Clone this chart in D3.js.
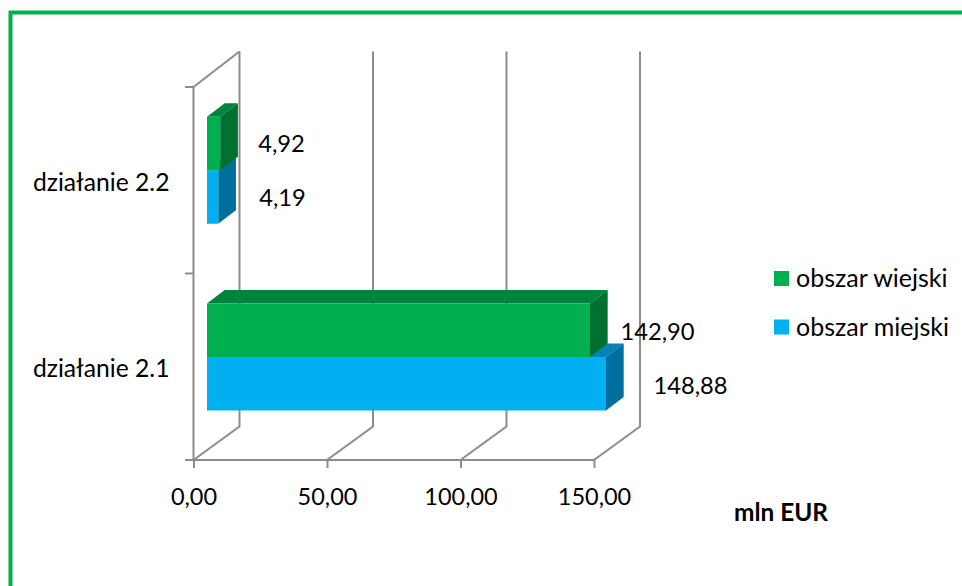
<!DOCTYPE html>
<html><head><meta charset="utf-8">
<script src="https://cdnjs.cloudflare.com/ajax/libs/d3/7.8.5/d3.min.js"></script>
<style>html,body{margin:0;padding:0;background:#fff}svg{display:block}
text{font-family:Lato,"Open Sans",sans-serif;fill:#000}</style></head>
<body><svg id="c" width="962" height="586"></svg>
<script>
const categories = ["działanie 2.2", "działanie 2.1"];
const seriesNames = ["obszar wiejski", "obszar miejski"];
const wiejski = [4.92, 142.90];
const miejski = [4.19, 148.88];
const xTicks = [0, 50, 100, 150];
const unitLabel = "mln EUR";

const fill = {
  "obszar wiejski": {front:"#00B050", top:"#00843C", side:"#00702F"},
  "obszar miejski": {front:"#00B0F0", top:"#0084B4", side:"#006F9E"}
};
const GRID = "#8C8C8C";
const svg = d3.select("#c");
const fmt = d3.formatLocale({decimal:",",thousands:" ",grouping:[3],currency:["",""]}).format(".2f");

// frame
svg.append("path").attr("d","M10.5 586V12.5H962").attr("fill","none").attr("stroke","#00B050").attr("stroke-width",4);

// scales
const x = d3.scaleLinear().domain([0,150]).range([193.5,594]);
const barX = d3.scaleLinear().domain([0,150]).range([207,609]);
const y = d3.scaleBand().domain(categories).range([87,460]);
const wall = {dx:46, dy:-33.5, top:51.5};
const barDepth = {dx:17.7, dy:-13.5};
const barH = 53.5, barShift = -10;

// back wall gridlines and floor lines
const g = svg.append("g").attr("fill","none").attr("stroke",GRID).attr("stroke-width",2);
xTicks.forEach(t=>{
  const fx = x(t), bx = fx + wall.dx, by = 460 + wall.dy;
  g.append("path").attr("d",`M${fx} 460L${bx} ${by}V${wall.top}`);
});
g.append("path").attr("d",`M193.5 87L${193.5+wall.dx} ${wall.top}`);

// axes
const xAxis = d3.axisBottom(x).tickValues(xTicks).tickFormat(fmt).tickSize(8).tickPadding(20);
const ax = svg.append("g").attr("transform","translate(0,460)").call(xAxis);
ax.selectAll("path,line").attr("stroke",GRID).attr("stroke-width",2);
ax.select(".domain").attr("d","M193.5 0H594");
ax.selectAll("text").attr("font-family",null).style("font-size","23.5px");

const yAxis = d3.axisLeft(y).tickSize(0).tickPadding(24);
const ay = svg.append("g").attr("transform","translate(193.5,0)").call(yAxis);
ay.select(".domain").attr("stroke",GRID).attr("stroke-width",2).attr("d","M0 87V460");
ay.selectAll("text").attr("font-family",null).attr("dy","0.42em").style("font-size","24.7px");
[87, 87+y.step(), 460].forEach(v=>{
  svg.append("line").attr("x1",185).attr("x2",193.5).attr("y1",v).attr("y2",v).attr("stroke",GRID).attr("stroke-width",2);
});

// bars
const rows = [
  {name:seriesNames[1], values:miejski, slot:1, nudge:[41,47.5]},
  {name:seriesNames[0], values:wiejski, slot:0, nudge:[38,30.5]}
];
const barsG = svg.append("g");
const labels = [];
rows.forEach(r=>{
  r.values.forEach((v,i)=>{
    const c = fill[r.name];
    const mid = y(categories[i]) + y.bandwidth()/2 + barShift + (i===0?0:0.3);
    const y0 = mid - barH + r.slot*barH, y1 = y0 + barH;
    const x0 = barX(0), x1 = barX(v), dx = barDepth.dx, dy = barDepth.dy;
    const poly = (pts,col)=>barsG.append("polygon").attr("points",pts.map(p=>p.join(",")).join(" ")).attr("fill",col);
    poly([[x0,y0],[x0+dx,y0+dy],[x1+dx,y0+dy],[x1,y0]],c.top);
    poly([[x1,y0],[x1+dx,y0+dy],[x1+dx,y1+dy],[x1,y1]],c.side);
    poly([[x0,y0],[x1,y0],[x1,y1],[x0,y1]],c.front);
    labels.push({v, x:x1+r.nudge[i], y:(y0+y1)/2 + 0.5 + (i===0?0:(r.slot===0?1:1))});
  });
});
// data labels
svg.append("g").selectAll("text").data(labels).join("text")
  .attr("x",d=>d.x).attr("y",d=>d.y).attr("dy","0.35em").style("font-size","23.7px").text(d=>fmt(d.v));

// legend
const lg = svg.append("g");
seriesNames.forEach((n,i)=>{
  const yy = 271+i*48.5;
  lg.append("rect").attr("x",774).attr("y",yy).attr("width",15).attr("height",15).attr("fill",fill[n].front);
  lg.append("text").attr("x",796).attr("y",yy+7.5).attr("dy","0.35em").style("font-size","25px").text(n);
});
// unit
svg.append("text").attr("x",734).attr("y",512).attr("dy","0.35em").style("font-size","24.4px").style("font-weight","700").text(unitLabel);
</script></body></html>
